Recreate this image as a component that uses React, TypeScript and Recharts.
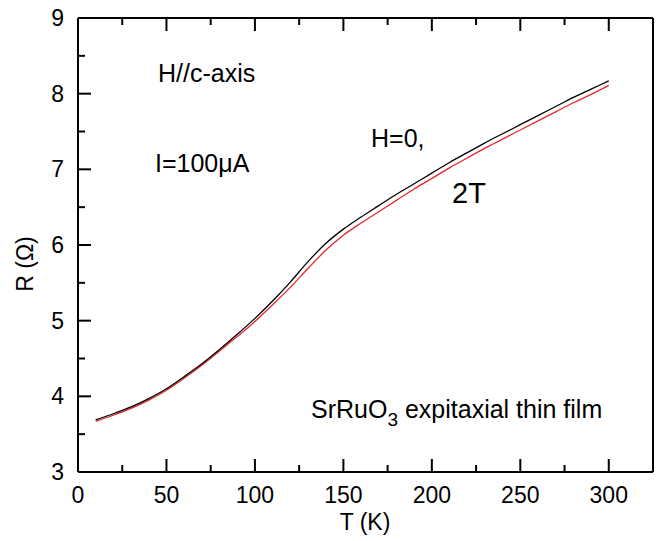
import { LineChart, Line, XAxis, YAxis, Customized } from "recharts";

// temperature (K) and resistance (Ω) for the two field settings
const temps = [10, 20, 30, 40, 50, 60, 70, 80, 90, 100, 110, 120, 130, 140, 150, 160, 170, 180, 190, 200, 210, 220, 230, 240, 250, 260, 270, 280, 290, 300];
const rZeroField = [3.69, 3.77, 3.86, 3.97, 4.1, 4.26, 4.43, 4.62, 4.82, 5.03, 5.26, 5.51, 5.78, 6.02, 6.21, 6.37, 6.52, 6.67, 6.81, 6.95, 7.09, 7.22, 7.35, 7.47, 7.59, 7.71, 7.83, 7.95, 8.06, 8.17];
const rTwoTesla = [3.67, 3.75, 3.84, 3.95, 4.08, 4.24, 4.41, 4.6, 4.79, 4.99, 5.21, 5.44, 5.69, 5.93, 6.13, 6.29, 6.44, 6.59, 6.74, 6.88, 7.02, 7.15, 7.28, 7.4, 7.52, 7.64, 7.76, 7.88, 7.99, 8.11];

const xTicks = [0, 25, 50, 75, 100, 125, 150, 175, 200, 225, 250, 275, 300];
const yTicks = [3, 3.5, 4, 4.5, 5, 5.5, 6, 6.5, 7, 7.5, 8, 8.5, 9];

const data = temps.map((t, i) => ({ t, h0: rZeroField[i], h2: rTwoTesla[i] }));

const FONT = "'Liberation Sans', Arial, sans-serif";
const frame = { stroke: "#000", strokeWidth: 2 };

const BottomTick = ({ x, y, payload }: any) => {
  const major = payload.value % 50 === 0;
  return (
    <g>
      <line x1={x} x2={x} y1={y} y2={y - (major ? 13 : 7)} stroke="#000" strokeWidth={2} />
      {major && (
        <text x={x} y={y + 31} textAnchor="middle" fontSize={23} fontFamily={FONT} fill="#000">
          {payload.value}
        </text>
      )}
    </g>
  );
};

const TopTick = ({ x, y, payload }: any) => {
  const major = payload.value % 50 === 0;
  return <line x1={x} x2={x} y1={y} y2={y + (major ? 13 : 7)} stroke="#000" strokeWidth={2} />;
};

const LeftTick = ({ x, y, payload }: any) => {
  const major = Number.isInteger(payload.value);
  return (
    <g>
      <line x1={x} x2={x + (major ? 13 : 7)} y1={y} y2={y} stroke="#000" strokeWidth={2} />
      {major && (
        <text x={x - 14} y={y + 8} textAnchor="end" fontSize={23} fontFamily={FONT} fill="#000">
          {payload.value}
        </text>
      )}
    </g>
  );
};

const RightTick = ({ x, y, payload }: any) => {
  const major = Number.isInteger(payload.value);
  return <line x1={x} x2={x - (major ? 13 : 7)} y1={y} y2={y} stroke="#000" strokeWidth={2} />;
};

const Annotations = () => (
  <g fontFamily={FONT} fill="#000">
    <text x={365} y={530} textAnchor="middle" fontSize={23}>T (K)</text>
    <text x={33} y={264} textAnchor="middle" fontSize={23} transform="rotate(-90, 33, 264)">R (Ω)</text>
    <text x={158} y={82} fontSize={25}>H//c-axis</text>
    <text x={155} y={172} fontSize={25}>I=100μA</text>
    <text x={371} y={147} fontSize={25}>H=0,</text>
    <text x={452} y={203} fontSize={29}>2T</text>
    <text x={311} y={418} fontSize={25}>
      SrRuO<tspan dy={8} fontSize={19}>3</tspan>
      <tspan dy={-8}> expitaxial thin film</tspan>
    </text>
  </g>
);

export default function App() {
  return (
    <div style={{ position: "absolute", left: 0, top: 0, width: 659, height: 541, background: "#fff" }}>
      <LineChart width={659} height={541} data={data} margin={{ top: 17, right: 5, bottom: 68, left: 77 }}>
        <XAxis
          dataKey="t"
          type="number"
          domain={[0, 325]}
          ticks={xTicks}
          interval={0}
          height={1}
          tickSize={0}
          tickMargin={0}
          tick={<BottomTick />}
          axisLine={frame}
        />
        <XAxis
          xAxisId="top"
          orientation="top"
          dataKey="t"
          type="number"
          domain={[0, 325]}
          ticks={xTicks}
          interval={0}
          height={1}
          tickSize={0}
          tickMargin={0}
          tick={<TopTick />}
          axisLine={frame}
        />
        <YAxis
          type="number"
          domain={[3, 9]}
          ticks={yTicks}
          interval={0}
          width={1}
          tickSize={0}
          tickMargin={0}
          tick={<LeftTick />}
          axisLine={frame}
        />
        <YAxis
          yAxisId="right"
          orientation="right"
          type="number"
          domain={[3, 9]}
          ticks={yTicks}
          interval={0}
          width={1}
          tickSize={0}
          tickMargin={0}
          tick={<RightTick />}
          axisLine={frame}
        />
        <Line type="monotone" dataKey="h2" stroke="#e8262b" strokeWidth={1.3} dot={false} isAnimationActive={false} />
        <Line type="monotone" dataKey="h0" stroke="#000" strokeWidth={1.3} dot={false} isAnimationActive={false} />
        <Customized component={Annotations} />
      </LineChart>
    </div>
  );
}
